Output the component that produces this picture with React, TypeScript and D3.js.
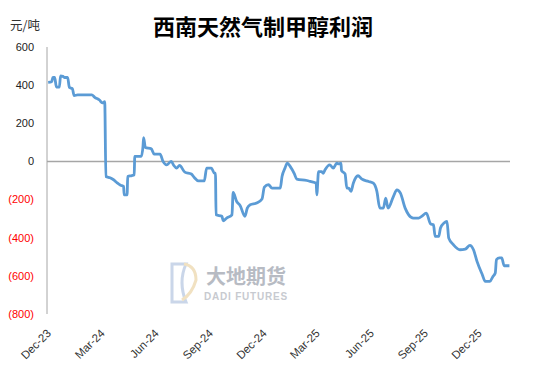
import React from 'react';
import * as d3 from 'd3';

const title = '西南天然气制甲醇利润';
const unitLabel = '元/吨';

const dates = [
  '2023-12-03','2023-12-09','2023-12-11','2023-12-14','2023-12-17','2023-12-22','2023-12-24','2023-12-28','2023-12-31',
  '2024-01-05','2024-01-08','2024-01-13','2024-01-16','2024-01-22','2024-02-15','2024-02-20','2024-02-28','2024-03-04',
  '2024-03-08','2024-03-10','2024-03-17','2024-03-23','2024-03-29','2024-04-04','2024-04-09','2024-04-10','2024-04-15',
  '2024-04-16','2024-04-23','2024-04-27','2024-04-28','2024-05-09','2024-05-12','2024-05-13','2024-05-16','2024-05-26',
  '2024-05-31','2024-06-10','2024-06-15','2024-06-21','2024-06-29','2024-07-03','2024-07-08','2024-07-13','2024-07-22',
  '2024-08-02','2024-08-07','2024-08-14','2024-08-24','2024-08-28','2024-09-05','2024-09-10','2024-09-12','2024-09-13',
  '2024-09-23','2024-09-25','2024-10-01','2024-10-10','2024-10-12','2024-10-18','2024-10-24','2024-11-01','2024-11-05',
  '2024-11-10','2024-11-21','2024-11-30','2024-12-04','2024-12-11','2024-12-17','2024-12-31','2025-01-03','2025-01-08',
  '2025-01-12','2025-01-17','2025-01-24','2025-01-28','2025-02-14','2025-02-20','2025-03-02','2025-03-03','2025-03-06',
  '2025-03-11','2025-03-14','2025-03-17','2025-03-25','2025-03-31','2025-04-06','2025-04-09','2025-04-13','2025-04-14',
  '2025-04-20','2025-04-23','2025-04-26','2025-04-30','2025-05-04','2025-05-12','2025-05-18','2025-05-30','2025-06-07',
  '2025-06-13','2025-06-18','2025-06-24','2025-06-28','2025-07-02','2025-07-11','2025-07-17','2025-07-23','2025-07-31',
  '2025-08-06','2025-08-14','2025-08-23','2025-08-28','2025-09-05','2025-09-12','2025-09-17','2025-09-20','2025-09-26',
  '2025-09-29','2025-10-05','2025-10-10','2025-10-13','2025-10-21','2025-11-01','2025-11-10','2025-11-18','2025-11-24',
  '2025-11-30','2025-12-09','2025-12-14','2025-12-22','2025-12-27','2025-12-31','2026-01-02','2026-01-07','2026-01-11',
  '2026-01-15','2026-01-24'
];

const profits = [
  415, 418, 440, 440, 390, 390, 448, 446, 440,
  440, 388, 382, 345, 349, 349, 336, 322, 307,
  313, -79, -86, -96, -112, -125, -131, -175, -175,
  -79, -74, -70, 26, 26, 80, 125, 73, 66,
  38, 38, 0, -18, 0, -20, -35, -21, -56,
  -66, -84, -102, -102, -35, -35, -61, -61, -280,
  -288, -311, -297, -280, -163, -210, -232, -288, -245,
  -227, -218, -197, -135, -122, -140, -140, -79, -35,
  -9, -27, -65, -93, -100, -105, -114, -175, -53,
  -53, -62, -44, -18, -35, -9, -13, -9, -48,
  -65, -140, -140, -157, -114, -75, -92, -105, -114,
  -157, -245, -245, -192, -245, -184, -149, -166, -245,
  -280, -297, -297, -288, -271, -327, -332, -393, -393,
  -349, -323, -315, -402, -437, -463, -460, -440, -463,
  -524, -594, -629, -629, -603, -585, -515, -506, -506,
  -547, -547
];

const yTicks = [600, 400, 200, 0, -200, -400, -600, -800];
const xTickDates = ['2023-12-01','2024-03-01','2024-06-01','2024-09-01','2024-12-01','2025-03-01','2025-06-01','2025-09-01','2025-12-01'];
const xTickLabels = ['Dec-23','Mar-24','Jun-24','Sep-24','Dec-24','Mar-25','Jun-25','Sep-25','Dec-25'];
const xDomain = ['2023-12-01', '2026-01-25'];

const parse = d3.timeParse('%Y-%m-%d');

function fmtY(v: number) {
  return v < 0 ? `(${Math.abs(v)})` : `${v}`;
}

export default function App() {
  const W = 550, H = 366;
  const left = 47, right = 510, top = 47, bottom = 314;
  const x = d3.scaleTime().domain(xDomain.map(d => parse(d) as Date)).range([left, right]);
  const y = d3.scaleLinear().domain([-800, 600]).range([bottom, top]);
  const data = dates.map((d, i) => ({ date: parse(d) as Date, v: profits[i] }));
  const line = d3.line<{ date: Date; v: number }>()
    .x(d => x(d.date))
    .y(d => y(d.v))
    .curve(d3.curveMonotoneX);

  const labelFont = '"Liberation Sans", Arial, sans-serif';

  return (
    <svg width={W} height={H} style={{ position: 'absolute', left: 0, top: 0, background: '#fff' }}>
      <rect x={0} y={0} width={W} height={H} fill="#fff" />
      {/* watermark */}
      <g opacity={0.55}>
        <path d="M172,264 L186,264 Q178,282 186,302 L172,302 Z" fill="none" stroke="#9fb6d8" strokeWidth={3} />
        <path d="M184,264 Q196,266 196,280 Q192,294 182,300" fill="none" stroke="#e6c98f" strokeWidth={3} />
        <text x={246} y={284} textAnchor="middle" fontSize={20} fontWeight={700} fill="#7d8593"
          fontFamily='"Noto Sans CJK SC", sans-serif'>大地期货</text>
        <text x={246} y={300} textAnchor="middle" fontSize={10} fontWeight={700} fill="#9aa0aa"
          letterSpacing={0.8} fontFamily={labelFont}>DADI FUTURES</text>
      </g>
      {/* title */}
      <text x={263} y={35} textAnchor="middle" fontSize={22} fontWeight={700} fill="#000"
        fontFamily='"Noto Sans CJK SC", serif'>{title}</text>
      <text x={10} y={30} fontSize={12.5} fill="#333" fontFamily='"Noto Sans CJK SC", sans-serif'>{unitLabel}</text>
      {/* y axis */}
      <line x1={left} x2={left} y1={top} y2={bottom} stroke="#a6a6a6" strokeWidth={1} />
      {yTicks.map(t => (
        <text key={t} x={34} y={y(t)} dy="0.35em" textAnchor="end" fontSize={11}
          fill={t < 0 ? '#ff0000' : '#222'} fontFamily={labelFont}>{fmtY(t)}</text>
      ))}
      {/* zero line */}
      <line x1={left} x2={right} y1={y(0)} y2={y(0)} stroke="#a6a6a6" strokeWidth={1.5} />
      {/* x labels */}
      {xTickDates.map((d, i) => {
        const px = x(parse(d) as Date);
        return (
          <text key={d} transform={`translate(${px + 2},${331}) rotate(-45)`} textAnchor="end" dy="0.35em"
            fontSize={11.5} fill="#333" fontFamily={labelFont}>{xTickLabels[i]}</text>
        );
      })}
      {/* series */}
      <path d={line(data) || ''} fill="none" stroke="#5b9bd5" strokeWidth={2.8} strokeLinejoin="round" />
    </svg>
  );
}
